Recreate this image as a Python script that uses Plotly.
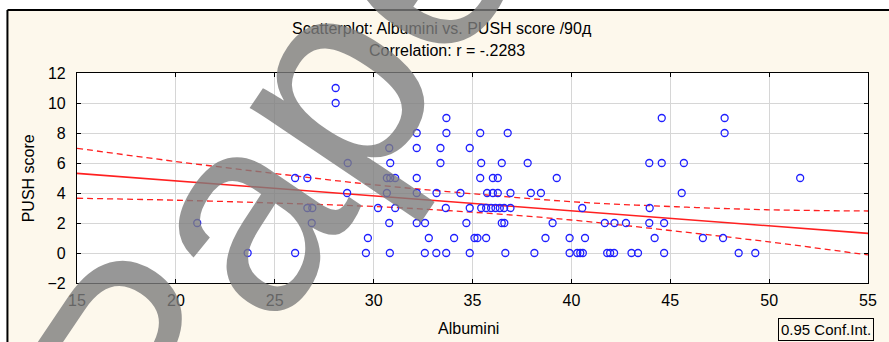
import plotly.graph_objects as go

# ---- data ----
albumini = [
    28.08, 28.08,
    33.68, 44.57, 47.75,
    32.18, 33.68, 35.39, 36.78, 47.75,
    30.79, 32.18, 33.38, 34.86,
    28.69, 30.84, 33.38, 35.44, 36.48, 37.79, 43.94, 44.57, 45.69,
    26.03, 26.65, 30.67, 30.84, 31.09, 32.18, 35.39, 36.03, 36.28, 39.26, 51.57,
    28.66, 30.67, 32.18, 33.18, 34.39, 35.74, 36.03, 36.28, 36.92, 37.95, 38.46, 45.58,
    26.65, 26.90, 30.22, 31.09, 33.65, 34.86, 35.44, 35.69, 35.94, 36.16, 36.38, 36.60, 36.92, 40.55, 43.96,
    21.08, 26.87, 30.79, 32.18, 32.60, 34.69, 36.48, 36.61, 39.05, 41.69, 42.18, 42.76, 43.94, 44.69,
    29.71, 32.79, 34.07, 35.10, 35.25, 35.69, 38.69, 39.91, 40.69, 44.21, 46.65, 47.67,
    23.63, 26.03, 29.61, 30.82, 32.59, 33.17, 33.67, 34.86, 36.66, 38.13, 39.91, 40.30,
    40.45, 40.58, 41.81, 41.96, 42.16, 43.04, 43.37, 44.69, 48.46, 49.30,
]
push_score = (
    [11, 10]
    + [9] * 3
    + [8] * 5
    + [7] * 4
    + [6] * 9
    + [5] * 11
    + [4] * 12
    + [3] * 15
    + [2] * 14
    + [1] * 12
    + [0] * 22
)

# regression line and 95% confidence limits
fit_x = [15, 55]
fit_y = [5.31, 1.31]
ci_x = [15, 20, 25, 30, 35, 40, 45, 50, 55]
ci_upper = [6.98, 6.10, 5.30, 4.55, 3.95, 3.42, 3.10, 2.88, 2.80]
ci_lower = [3.65, 3.52, 3.33, 3.10, 2.72, 2.20, 1.50, 0.74, -0.13]

x_ticks = [15, 20, 25, 30, 35, 40, 45, 50, 55]
y_ticks = [-2, 0, 2, 4, 6, 8, 10, 12]
title_line1 = "Scatterplot: Albumini vs. PUSH score /90д"
title_line2 = "Correlation: r = -.2283"
x_label = "Albumini"
y_label = "PUSH score"
legend_text = "0.95 Conf.Int."
watermark = "Pape"

FONT = "Liberation Sans Narrow, Arial Narrow, Liberation Sans, Arial, sans-serif"
RED = "#ff2020"
BLUE = "#1f1fff"

fig = go.Figure()
fig.add_trace(go.Scatter(x=ci_x, y=ci_upper, mode="lines", line_shape="spline",
                         line=dict(color=RED, width=1.3, dash="6px,4px"), hoverinfo="skip"))
fig.add_trace(go.Scatter(x=ci_x, y=ci_lower, mode="lines", line_shape="spline",
                         line=dict(color=RED, width=1.3, dash="6px,4px"), hoverinfo="skip"))
fig.add_trace(go.Scatter(x=fit_x, y=fit_y, mode="lines",
                         line=dict(color=RED, width=1.6), hoverinfo="skip"))
fig.add_trace(go.Scatter(x=albumini, y=push_score, mode="markers",
                         marker=dict(symbol="circle-open", size=7, color=BLUE,
                                     line=dict(width=1.3, color=BLUE))))

L, R, T, B = 77, 16, 73, 59
W, H = 889, 342
pw, ph = W - L - R, H - T - B


def px2x(px):
    return (px - L) / pw


def px2y(py):
    return (H - B - py) / ph


axis_common = dict(showgrid=True, gridcolor="#d6d6d6", gridwidth=1, zeroline=False,
                   showline=True, linecolor="black", linewidth=1.2, mirror="ticks",
                   ticks="inside", ticklen=4, tickcolor="black",
                   tickfont=dict(family=FONT, size=16, color="black"))

fig.update_layout(
    width=W, height=H,
    margin=dict(l=L, r=R, t=T, b=B),
    paper_bgcolor="#fdf8ec",
    plot_bgcolor="white",
    showlegend=False,
    xaxis=dict(range=[15, 55], tickvals=x_ticks, ticklabelstandoff=3, **axis_common),
    yaxis=dict(range=[-2, 12], tickvals=y_ticks, ticklabelstandoff=7, **axis_common),
    font=dict(family=FONT, color="black"),
)

ann = [
    dict(text=title_line1, x=px2x(444), y=px2y(28), font=dict(size=16)),
    dict(text=title_line2, x=px2x(449), y=px2y(51), font=dict(size=16)),
    dict(text=x_label, x=px2x(471), y=px2y(328), font=dict(size=16)),
    dict(text=y_label, x=px2x(28), y=px2y(178), textangle=-90, font=dict(size=16)),
    dict(text=legend_text, x=px2x(831), y=px2y(329.5), font=dict(size=15),
         bordercolor="black", borderwidth=1, borderpad=2, bgcolor="#fdf8ec"),
]
for a in ann:
    fig.add_annotation(xref="paper", yref="paper", showarrow=False,
                       xanchor="center", yanchor="middle", **a)

# watermark
fig.add_annotation(xref="paper", yref="paper", showarrow=False, text=watermark,
                   x=px2x(275), y=px2y(165), xanchor="center", yanchor="middle",
                   textangle=-56, font=dict(family="Liberation Sans, Arial", size=280,
                                            color="rgba(125,125,125,0.8)"))

# outer frame
fig.add_shape(type="rect", xref="paper", yref="paper", x0=px2x(-5), x1=px2x(6.5),
              y0=px2y(350), y1=px2y(-5), fillcolor="white", line=dict(width=0), layer="above")
fig.add_shape(type="rect", xref="paper", yref="paper", x0=px2x(-5), x1=px2x(900),
              y0=px2y(10), y1=px2y(-5), fillcolor="white", line=dict(width=0), layer="above")
fig.add_shape(type="line", xref="paper", yref="paper", x0=px2x(7), x1=px2x(7),
              y0=px2y(10), y1=px2y(350), line=dict(color="black", width=2), layer="above")
fig.add_shape(type="line", xref="paper", yref="paper", x0=px2x(7), x1=px2x(900),
              y0=px2y(10), y1=px2y(10), line=dict(color="black", width=2), layer="above")

fig.write_html("out.html")
